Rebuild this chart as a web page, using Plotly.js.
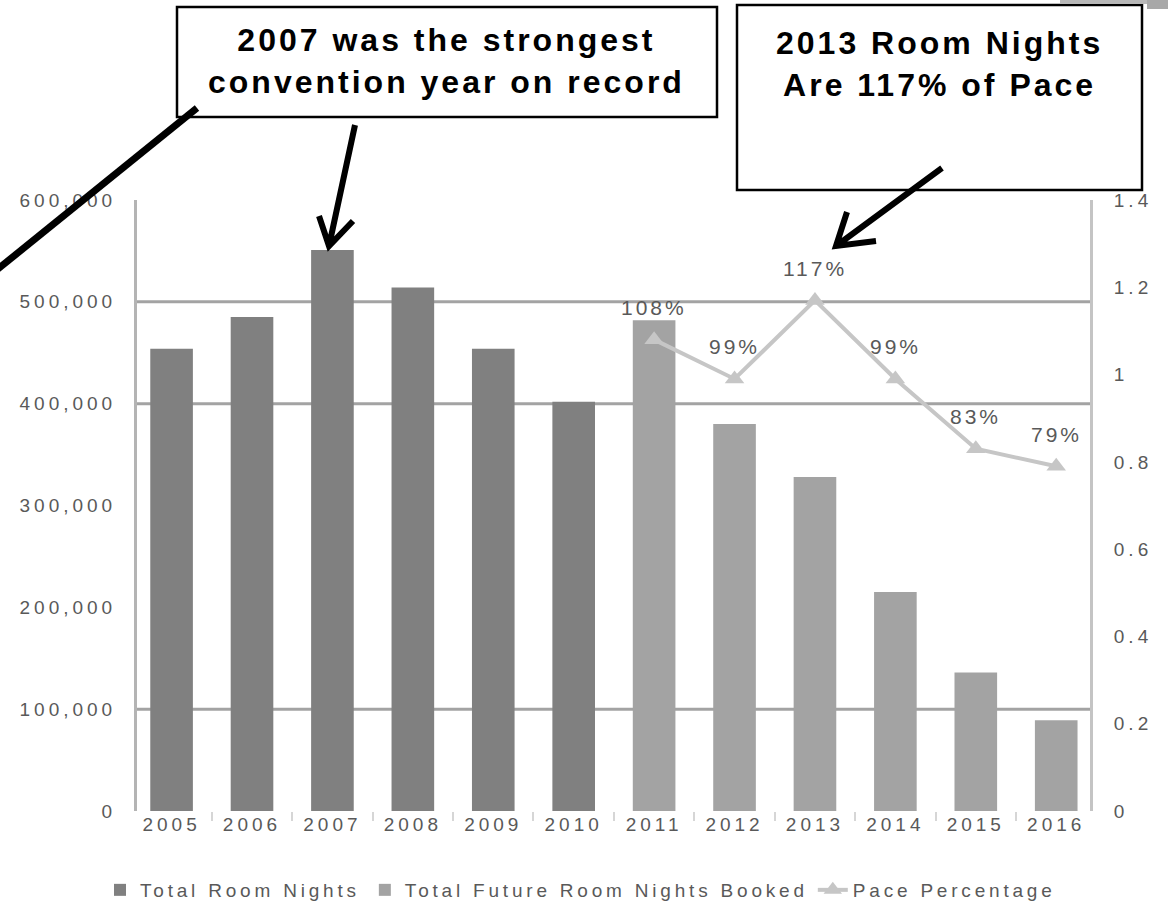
<!DOCTYPE html>
<html><head><meta charset="utf-8">
<script src="https://cdn.plot.ly/plotly-3.0.1.min.js"></script>
<style>
html,body{margin:0;padding:0;background:#fff;}
#chart{width:1168px;height:914px;}
g.xtick text, g.ytick text, g.y2tick text{letter-spacing:4px;}
text.legendtext{letter-spacing:3.8px;}
text.annotation-text{letter-spacing:3px;}
</style></head><body><div id="chart"></div>
<script>
// ---- data ----
const years = ['2005','2006','2007','2008','2009','2010','2011','2012','2013','2014','2015','2016'];
const actualYears = ['2005','2006','2007','2008','2009','2010'];
const totalRoomNights = [454000, 485000, 551000, 514000, 454000, 402000];
const futureYears = ['2011','2012','2013','2014','2015','2016'];
const futureRoomNights = [482000, 380000, 328000, 215000, 136000, 89000];
const pacePercentage = [1.08, 0.99, 1.17, 0.99, 0.83, 0.79];
const paceLabels = ['108%','99%','117%','99%','83%','79%'];
const gridValues = [100000, 400000, 500000];
const callout1 = '2007 was the strongest<br>convention year on record';
const callout2 = '2013 Room Nights<br>Are 117% of Pace';

// ---- layout helpers ----
const W = 1168, H = 914;
const M = {l:137, r:78, t:200, b:103, autoexpand:false};
const PW = W - M.l - M.r, PH = H - M.t - M.b;
const px = x => (x - M.l) / PW;
const py = y => (H - M.b - y) / PH;

const FONT = 'Liberation Sans, Arial, sans-serif';
const TXT = '#595959';
const tickFont = {family: FONT, size: 19, color: TXT};

const traces = [
  {type:'bar', name:'Total Room Nights', x: actualYears, y: totalRoomNights,
   width: 0.53, marker:{color:'#808080'}, hoverinfo:'skip'},
  {type:'bar', name:'Total Future Room Nights Booked', x: futureYears, y: futureRoomNights,
   width: 0.53, marker:{color:'#a3a3a3'}, hoverinfo:'skip'},
  {type:'scatter', mode:'lines+markers', name:'Pace Percentage', x: futureYears, y: pacePercentage,
   yaxis:'y2', line:{color:'#c6c6c6', width:4},
   marker:{symbol:'triangle-up', size:17, color:'#c6c6c6'}, cliponaxis:false, hoverinfo:'skip'}
];

const shapes = [];
gridValues.forEach(v => shapes.push({type:'line', layer:'below', xref:'paper', yref:'y',
  x0:0, x1:1, y0:v, y1:v, line:{color:'#a3a3a3', width:3}}));
function box(x0,y0,x1,y1){
  shapes.push({type:'rect', layer:'above', xref:'paper', yref:'paper',
    x0:px(x0), x1:px(x1), y0:py(y1), y1:py(y0),
    line:{color:'#000', width:2.5}, fillcolor:'rgba(255,255,255,0)'});
}
box(177, 7, 717, 117);
box(737, 5, 1142, 190);
// grey fragment top-right corner
shapes.push({type:'rect', layer:'above', xref:'paper', yref:'paper',
  x0:px(1060), x1:px(1168), y0:py(4), y1:py(0), line:{width:0}, fillcolor:'#b8b8b8'});
shapes.push({type:'rect', layer:'above', xref:'paper', yref:'paper',
  x0:px(1147), x1:px(1168), y0:py(9), y1:py(0), line:{width:0}, fillcolor:'#a8a8a8'});
// pointer arrows (decoration): shaft + open V head
function P(x, y){ return px(x).toFixed(5) + ',' + py(y).toFixed(5); }
function arrowPath(tail, tip, w1, w2){
  shapes.push({type:'path', layer:'above', xref:'paper', yref:'paper',
    path: 'M' + P(tail[0], tail[1]) + 'L' + P(tip[0], tip[1]) +
          'M' + P(w1[0], w1[1]) + 'L' + P(tip[0], tip[1]) + 'L' + P(w2[0], w2[1]),
    line:{color:'#000', width:6}});
}
arrowPath([355,125], [329,246], [319,216], [353,221]);
arrowPath([942,168], [836,246], [847,212], [876,241]);
shapes.push({type:'line', layer:'above', xref:'paper', yref:'paper',
  x0:px(-12), y0:py(277), x1:px(197), y1:py(108), line:{color:'#000', width:7}});

const annotations = [];
const calloutFont = {family: FONT, size: 32, color:'#000'};
annotations.push({xref:'paper', yref:'paper', x:px(446), y:py(61), xanchor:'center', yanchor:'middle',
  text:'<b>'+callout1.replace('<br>','</b><br><b>')+'</b>', showarrow:false, font:calloutFont, align:'center'});
annotations.push({xref:'paper', yref:'paper', x:px(939), y:py(64), xanchor:'center', yanchor:'middle',
  text:'<b>'+callout2.replace('<br>','</b><br><b>')+'</b>', showarrow:false, font:calloutFont, align:'center'});
// data labels (category axis -> use category index)
futureYears.forEach((yr, i) => annotations.push({xref:'x', yref:'y2', x: years.indexOf(yr), y: pacePercentage[i],
  text: paceLabels[i], showarrow:false, yshift:32, font:{family:FONT, size:21, color:TXT}}));

const layout = {
  width: W, height: H, margin: M, paper_bgcolor:'#fff', plot_bgcolor:'#fff',
  barmode:'overlay', showlegend:true,
  font:{family: FONT, color: TXT},
  xaxis:{type:'category', categoryorder:'array', categoryarray: years, range:[-0.43, 11.42],
    showgrid:false, zeroline:false, showline:false, ticks:'outside', tickson:'boundaries',
    ticklen:9, tickwidth:2, tickcolor:'#d6d6d6', tickfont: tickFont, fixedrange:true},
  yaxis:{range:[0, 600000], dtick:100000, tickformat:',', showgrid:false, zeroline:false,
    showline:true, linecolor:'#b4b4b4', linewidth:3, ticks:'outside', ticklen:14,
    tickcolor:'rgba(0,0,0,0)', tickfont: tickFont},
  yaxis2:{overlaying:'y', side:'right', range:[0, 1.4], dtick:0.2, showgrid:false, zeroline:false,
    showline:true, linecolor:'#c4c4c4', linewidth:3, ticks:'outside', ticklen:17,
    tickcolor:'rgba(0,0,0,0)', tickfont: tickFont},
  legend:{orientation:'h', x:px(100), xanchor:'left', y:py(890), yanchor:'middle',
    font:{family:FONT, size:19, color:TXT}, itemwidth:30, bgcolor:'rgba(0,0,0,0)'},
  shapes: shapes,
  annotations: annotations
};

Plotly.newPlot('chart', traces, layout, {displayModeBar:false, staticPlot:true});
</script></body></html>
